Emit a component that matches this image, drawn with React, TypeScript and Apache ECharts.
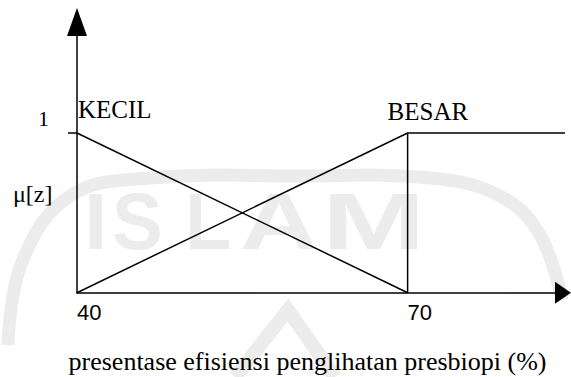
import React, { useEffect, useRef } from "react";
import * as echarts from "echarts";

const xMin = 40;
const xMax = 84.1;
const yMin = 0;
const yMax = 1.695;
const xTickLabels = [40, 70];
const yTickLabels = [1];
const kecilX = [40, 70];
const kecilY = [1, 0];
const besarX = [40, 70, 85];
const besarY = [0, 1, 1];
const edgeX = [70, 70];
const edgeY = [0, 1];
const setNames = ["KECIL", "BESAR"];
const xTitle = "presentase efisiensi penglihatan presbiopi (%)";
const yTitle = "μ[z]";
const watermarkLetters = ["I", "S", "L", "A", "M"];

const FONT = "'Liberation Serif', 'Times New Roman', serif";
const WM = "#ececec";

export default function App() {
  const ref = useRef<HTMLDivElement>(null);
  useEffect(() => {
    if (!ref.current) return;
    const chart = echarts.init(ref.current, undefined, { renderer: "svg" });
    const lineStyle = { color: "#000", width: 1.5 };
    const wmLeft = [84, 112, 185, 240, 322];
    const wmScale = [1.05, 0.95, 0.95, 1.35, 1.55];
    chart.setOption({
      animation: false,
      backgroundColor: "#fff",
      grid: {
        left: 77,
        right: 8,
        top: 22,
        bottom: 84.3,
        containLabel: false,
        outerBoundsMode: "none",
      },
      graphic: [
        {
          type: "polyline",
          z: 0,
          silent: true,
          shape: {
            points: [
              [8, 345],
              [22, 262],
              [70, 196],
              [150, 178],
              [300, 176],
              [430, 178],
              [500, 196],
              [540, 235],
              [562, 300],
            ],
            smooth: 0.4,
          },
          style: { stroke: WM, lineWidth: 13, fill: "none" },
        },
        {
          type: "polyline",
          z: 0,
          silent: true,
          shape: { points: [[235, 377], [288, 310], [335, 377]] },
          style: { stroke: WM, lineWidth: 14, fill: "none" },
        },
        ...watermarkLetters.map((ch, i) => ({
          type: "group",
          left: wmLeft[i],
          top: 181,
          z: 0,
          silent: true,
          children: [
            {
              type: "text",
              scaleX: wmScale[i],
              z: 0,
              silent: true,
              style: {
                text: ch,
                fill: WM,
                font: "bold 80px 'Liberation Sans', sans-serif",
              },
            },
          ],
        })),
        {
          type: "text",
          left: 13,
          top: 182,
          z: 5,
          style: {
            text: yTitle,
            fill: "#000",
            font: `24px ${FONT}`,
          },
        },
      ],
      xAxis: {
        type: "value",
        min: xMin,
        max: xMax,
        interval: 10,
        splitLine: { show: false },
        axisLine: {
          lineStyle: { color: "#000", width: 1.5 },
          symbol: ["none", "triangle"],
          symbolSize: [22, 16],
        },
        axisTick: { show: false },
        axisLabel: {
          color: "#000",
          fontFamily: "'Liberation Sans', sans-serif",
          fontSize: 22,
          align: "left",
          margin: 9,
          formatter: (v: number) => (xTickLabels.includes(v) ? String(v) : ""),
        },
        name: xTitle,
        nameLocation: "middle",
        nameGap: 56,
        nameTextStyle: {
          color: "#000",
          fontFamily: FONT,
          fontSize: 26,
          padding: [0, 25, 0, 0],
        },
      },
      yAxis: {
        type: "value",
        min: yMin,
        max: yMax,
        interval: 1,
        splitLine: { show: false },
        axisLine: {
          lineStyle: { color: "#000", width: 1.5 },
          symbol: ["none", "triangle"],
          symbolSize: [20, 28],
        },
        axisTick: {
          show: true,
          length: 9,
          lineStyle: { color: "#000", width: 1.5 },
          customValues: yTickLabels,
        },
        axisLabel: {
          color: "#000",
          fontFamily: FONT,
          fontSize: 22,
          margin: 28,
          verticalAlign: "bottom",
          lineHeight: 28,
          formatter: (v: number) => (yTickLabels.includes(v) ? String(v) : ""),
        },
      },
      series: [
        {
          type: "line",
          name: setNames[0],
          clip: false,
          symbol: "circle",
          symbolSize: 0.1,
          lineStyle,
          itemStyle: { color: "#000" },
          data: kecilX.map((x, i) => ({
            value: [x, kecilY[i]],
            label:
              i === 0
                ? {
                    show: true,
                    formatter: setNames[0],
                    position: "top",
                    align: "left",
                    distance: 0,
                    offset: [1, -11],
                    color: "#000",
                    fontFamily: FONT,
                    fontSize: 25,
                  }
                : { show: false },
          })),
        },
        {
          type: "line",
          name: setNames[1],
          clip: false,
          symbol: "circle",
          symbolSize: 0.1,
          lineStyle,
          itemStyle: { color: "#000" },
          data: besarX.map((x, i) => ({
            value: [x, besarY[i]],
            label:
              i === 1
                ? {
                    show: true,
                    formatter: setNames[1],
                    position: "top",
                    align: "left",
                    distance: 0,
                    offset: [-20, -9],
                    color: "#000",
                    fontFamily: FONT,
                    fontSize: 25,
                  }
                : { show: false },
          })),
        },
        {
          type: "line",
          clip: false,
          symbol: "none",
          lineStyle,
          data: edgeX.map((x, i) => [x, edgeY[i]]),
        },
      ],
    });
    return () => chart.dispose();
  }, []);
  return <div ref={ref} style={{ width: 571, height: 377, position: "absolute", left: 0, top: 0 }} />;
}
